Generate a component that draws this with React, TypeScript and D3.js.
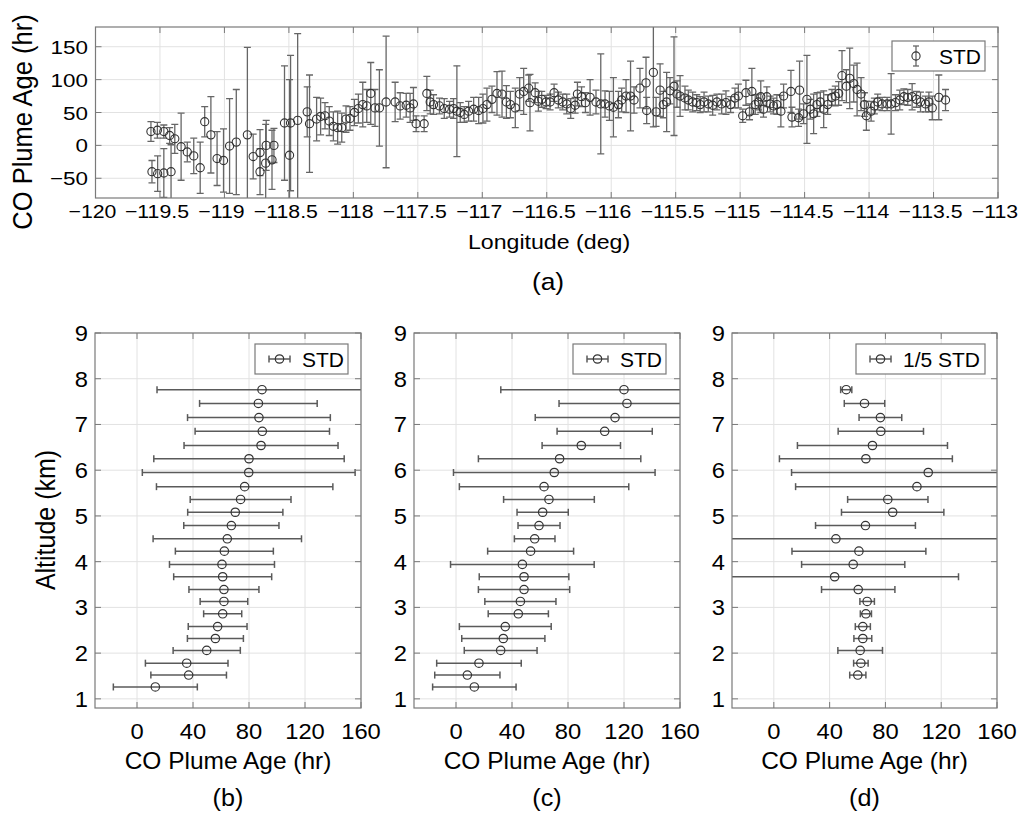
import React from "react";
import * as d3 from "d3";

// ---------- Panel (a) data: longitude, CO plume age, STD ----------
const lonA = [
  -119.57, -119.562, -119.52, -119.518, -119.47, -119.47, -119.425, -119.414, -119.385, -119.336,
  -119.288, -119.238, -119.188, -119.153, -119.105, -119.057, -119.007, -118.96, -118.908, -118.822,
  -118.777, -118.724, -118.724, -118.68, -118.676, -118.631, -118.616, -118.534, -118.495, -118.487,
  -118.432, -118.358, -118.34, -118.285, -118.254, -118.22, -118.187, -118.155, -118.122, -118.09,
  -118.057, -118.026, -117.992, -117.961, -117.927, -117.896, -117.865, -117.832, -117.798, -117.746,
  -117.676, -117.637, -117.59, -117.56, -117.534, -117.513, -117.451, -117.43, -117.404, -117.378,
  -117.332, -117.295, -117.254, -117.223, -117.197, -117.171, -117.14, -117.106, -117.067, -117.028,
  -116.995, -116.964, -116.925, -116.886, -116.847, -116.813, -116.782, -116.744, -116.71, -116.679,
  -116.64, -116.63, -116.59, -116.565, -116.539, -116.505, -116.474, -116.443, -116.41, -116.376,
  -116.345, -116.314, -116.28, -116.262, -116.23, -116.2, -116.164, -116.118, -116.081, -116.048,
  -116.014, -115.983, -115.944, -115.919, -115.885, -115.85, -115.823, -115.777, -115.73, -115.725,
  -115.673, -115.652, -115.621, -115.596, -115.57, -115.544, -115.513, -115.49, -115.466, -115.428,
  -115.402, -115.368, -115.337, -115.31, -115.28, -115.247, -115.213, -115.18, -115.143, -115.11,
  -115.074, -115.04, -115.014, -114.98, -114.955, -114.927, -114.909, -114.883, -114.858, -114.84,
  -114.819, -114.793, -114.767, -114.741, -114.715, -114.684, -114.663, -114.606, -114.598, -114.547,
  -114.539, -114.508, -114.482, -114.456, -114.43, -114.404, -114.378, -114.352, -114.321, -114.288,
  -114.262, -114.236, -114.21, -114.176, -114.15, -114.119, -114.093, -114.062, -114.036, -114.021,
  -113.984, -113.959, -113.933, -113.899, -113.86, -113.829, -113.795, -113.762, -113.73, -113.7,
  -113.666, -113.632, -113.601, -113.562, -113.536, -113.51, -113.459, -113.407,
];
const ageA = [
  21, -40, 23, -43, 21, -42, 15, -40, 10, -2,
  -10, -16, -34, 36, 16, -20, -23, -1, 5, 16,
  -17, -11, -40, -27, 0, -22, 0, 34, -15, 34,
  38, 51, 33, 40, 44, 45, 37, 29, 27, 27,
  40, 41, 50, 56, 62, 60, 79, 57, 57, 66,
  66, 60, 61, 57, 63, 33, 33, 79, 66, 62,
  60, 56, 55, 56, 52, 50, 47, 52, 55, 53,
  56, 62, 70, 79, 78, 66, 62, 57, 78, 82,
  87, 65, 80, 67, 70, 66, 66, 80, 69, 66,
  63, 56, 61, 78, 74, 65, 73, 66, 63, 63,
  60, 58, 62, 69, 75, 75, 69, 87, 95, 53,
  111, 51, 84, 62, 66, 83, 90, 78, 75, 72,
  69, 66, 65, 62, 66, 63, 61, 66, 63, 65,
  62, 72, 75, 45, 80, 51, 82, 62, 66, 74,
  55, 74, 63, 60, 62, 52, 75, 82, 43, 42,
  84, 48, 70, 55, 48, 62, 66, 55, 62, 73,
  75, 79, 106, 90, 102, 94, 85, 78, 62, 45,
  52, 60, 66, 63, 63, 63, 65, 69, 74, 73,
  74, 70, 66, 63, 66, 57, 73, 69,
];
const stdA = [
  15, 17, 12, 27, 10, 37, 12, 41, 22, 51,
  15, 27, 39, 23, 58, 41, 48, 72, 80, 133,
  34, 35, 35, 59, 38, 45, 26, 87, 115, 103,
  132, 38, 74, 33, 28, 20, 22, 22, 25, 22,
  20, 18, 20, 22, 34, 25, 47, 28, 58, 100,
  30, 20, 18, 22, 25, 12, 12, 26, 18, 15,
  12, 15, 12, 15, 69, 15, 12, 15, 18, 20,
  22, 25, 20, 33, 35, 25, 20, 30, 25, 35,
  20, 43, 15, 15, 12, 10, 12, 13, 12, 12,
  15, 15, 12, 18, 15, 15, 27, 18, 76, 20,
  22, 45, 20, 18, 25, 53, 20, 30, 39, 20,
  83, 22, 40, 20, 45, 20, 75, 20, 31, 18,
  15, 15, 12, 12, 15, 12, 15, 12, 15, 18,
  12, 15, 18, 10, 19, 12, 35, 15, 12, 24,
  12, 15, 12, 12, 15, 24, 18, 32, 15, 13,
  44, 15, 67, 15, 30, 18, 15, 28, 15, 12,
  15, 18, 38, 25, 46, 28, 40, 25, 18, 22,
  15, 12, 12, 10, 10, 46, 12, 15, 12, 12,
  20, 12, 15, 12, 15, 18, 34, 16,
];
const lonTicks = [-120, -119.5, -119, -118.5, -118, -117.5, -117, -116.5, -116, -115.5, -115, -114.5, -114, -113.5, -113];
const ageTicksA = [-50, 0, 50, 100, 150];

// ---------- Panels (b)-(d): altitude profiles ----------
const altitudes = [7.76, 7.46, 7.15, 6.85, 6.54, 6.25, 5.95, 5.64, 5.36, 5.08, 4.79, 4.5, 4.23, 3.94, 3.67, 3.39, 3.13, 2.86, 2.58, 2.32, 2.06, 1.78, 1.52, 1.26];
const ageB = [89.3, 86.7, 87.1, 89.5, 88.6, 80, 79.8, 76.9, 74, 70.2, 67.4, 64.5, 62.4, 60.7, 61.2, 62.1, 62.1, 61.2, 57.6, 56, 49.8, 35.5, 36.9, 13.1];
const stdB = [75, 42, 51, 48, 55, 68, 76, 63, 36, 34, 34, 53, 35, 37.5, 35, 25, 17, 13.6, 21, 20, 24, 29.5, 27, 30];
const ageC = [120, 122.1, 113.6, 106.2, 89.5, 74, 70.2, 62.9, 66.4, 61.9, 59.3, 56.2, 53.3, 47.4, 48.6, 48.6, 46, 44.5, 35.2, 33.8, 31.9, 16.4, 8.1, 13.1];
const stdC = [88, 48.5, 57, 34, 28, 58, 72, 60.5, 32.4, 18.3, 15, 14.5, 30.7, 51.3, 32, 32.6, 25.4, 21.5, 32.8, 29.7, 26, 30.2, 23.3, 29.8];
const ageD = [51.9, 65, 76.4, 76.7, 70.7, 66, 110.7, 102.6, 81.7, 85.2, 65.7, 44.5, 61, 56.9, 43.6, 60.5, 66.9, 66, 63.8, 63.8, 61.9, 62.4, 60.2];
const stdD = [4, 14.5, 15.3, 30.6, 53.8, 62, 98, 87, 28.8, 36.7, 35.8, 135, 48, 37, 88.8, 26.3, 5.2, 4, 5.4, 6.4, 16, 5.2, 5.8];
const ageTicks = [0, 40, 80, 120, 160];
const altTicks = [1, 2, 3, 4, 5, 6, 7, 8, 9];

const FONT = "'Liberation Sans', Arial, Helvetica, sans-serif";
const fmt = d3.format("");
const FRAME = "#7a7a7a";
const GRID = "#e2e2e2";
const BAR = "#5a5a5a";
const BAR_A = "#666666";
const MARK = "#333333";

// horizontally stretched text (the reference glyphs are wider than Arial's)
function SText({ x, y, k = 1, size, anchor = "middle", rotate = 0, children }: any) {
  const t = `translate(${x},${y}) scale(${k},1)` + (rotate ? ` rotate(${rotate})` : "");
  return (
    <text transform={t} textAnchor={anchor} fontSize={size} fontFamily={FONT} fill="#000">
      {children}
    </text>
  );
}

function PanelA() {
  const x = d3.scaleLinear().domain([-120, -113]).range([95.5, 998]);
  const y = d3.scaleLinear().domain([-80, 180]).range([198, 27]);
  const [x0, x1] = x.range();
  const [y1, y0] = y.range();
  const tk = 6;
  const cap = 3.5;
  return (
    <g>
      <defs>
        <clipPath id="clipA">
          <rect x={x0} y={y0} width={x1 - x0} height={y1 - y0} />
        </clipPath>
      </defs>
      <rect x={x0} y={y0} width={x1 - x0} height={y1 - y0} fill="#fff" />
      {lonTicks.map((t) => (
        <line key={"gx" + t} x1={x(t)} x2={x(t)} y1={y0} y2={y1} stroke={GRID} />
      ))}
      {ageTicksA.map((t) => (
        <line key={"gy" + t} x1={x0} x2={x1} y1={y(t)} y2={y(t)} stroke={GRID} />
      ))}
      <g clipPath="url(#clipA)">
        {lonA.map((lon, i) => {
          const cx = x(lon);
          const top = y(ageA[i] + stdA[i]);
          const bot = y(ageA[i] - stdA[i]);
          return (
            <g key={"e" + i} stroke={BAR_A} strokeWidth={1.3} fill="none">
              <line x1={cx} x2={cx} y1={top} y2={bot} />
              <line x1={cx - cap} x2={cx + cap} y1={top} y2={top} />
              <line x1={cx - cap} x2={cx + cap} y1={bot} y2={bot} />
            </g>
          );
        })}
        {lonA.map((lon, i) => (
          <circle key={"c" + i} cx={x(lon)} cy={y(ageA[i])} r={4.1} fill="none" stroke={MARK} strokeWidth={1.1} />
        ))}
      </g>
      {lonTicks.map((t) => (
        <g key={"tx" + t} stroke={FRAME}>
          <line x1={x(t)} x2={x(t)} y1={y1} y2={y1 - tk} />
          <line x1={x(t)} x2={x(t)} y1={y0} y2={y0 + tk} />
        </g>
      ))}
      {ageTicksA.map((t) => (
        <g key={"ty" + t} stroke={FRAME}>
          <line x1={x0} x2={x0 + tk} y1={y(t)} y2={y(t)} />
          <line x1={x1} x2={x1 - tk} y1={y(t)} y2={y(t)} />
        </g>
      ))}
      <rect x={x0} y={y0} width={x1 - x0} height={y1 - y0} fill="none" stroke={FRAME} strokeWidth={1.2} />
      {lonTicks.map((t) => (
        <SText key={"lx" + t} x={x(t) - 3} y={218} k={1.12} size={19}>
          {fmt(t)}
        </SText>
      ))}
      {ageTicksA.map((t) => (
        <SText key={"ly" + t} x={88} y={y(t) + 7} k={1.18} size={19} anchor="end">
          {fmt(t)}
        </SText>
      ))}
      <SText x={549} y={249} k={1.13} size={20.5}>
        Longitude (deg)
      </SText>
      <SText x={548} y={290} k={1.1} size={24}>
        (a)
      </SText>
      <SText x={32} y={122} k={1.1} size={25.5} rotate={-90}>
        CO Plume Age (hr)
      </SText>
      {/* legend */}
      <rect x={892} y={41} width={93} height={30} fill="#fff" stroke={FRAME} strokeWidth={1.2} />
      <g stroke={BAR_A} strokeWidth={1.3}>
        <line x1={916} x2={916} y1={46} y2={66} />
        <line x1={913} x2={919} y1={46} y2={46} />
        <line x1={913} x2={919} y1={66} y2={66} />
      </g>
      <circle cx={916} cy={56} r={4.1} fill="none" stroke={MARK} strokeWidth={1.1} />
      <SText x={939} y={64} k={1.05} size={20} anchor="start">
        STD
      </SText>
    </g>
  );
}

type ProfileProps = {
  id: string;
  left: number;
  right: number;
  alt: number[];
  age: number[];
  std: number[];
  legendX: number;
  legendW: number;
  legendText: string;
  tag: string;
};

function Profile({ id, left, right, alt, age, std, legendX, legendW, legendText, tag }: ProfileProps) {
  const x = d3.scaleLinear().domain([-30, 160]).range([left, right]);
  const y = d3.scaleLinear().domain([0.8, 9]).range([708, 333]);
  const x0 = left, x1 = right;
  const y0 = 333, y1 = 708;
  const tk = 6;
  const cap = 3.5;
  const cxm = (x0 + x1) / 2;
  return (
    <g>
      <defs>
        <clipPath id={"clip" + id}>
          <rect x={x0} y={y0} width={x1 - x0} height={y1 - y0} />
        </clipPath>
      </defs>
      <rect x={x0} y={y0} width={x1 - x0} height={y1 - y0} fill="#fff" />
      {ageTicks.map((t) => (
        <line key={"gx" + t} x1={x(t)} x2={x(t)} y1={y0} y2={y1} stroke={GRID} />
      ))}
      {altTicks.map((t) => (
        <line key={"gy" + t} x1={x0} x2={x1} y1={y(t)} y2={y(t)} stroke={GRID} />
      ))}
      <g clipPath={`url(#clip${id})`}>
        {alt.map((a, i) => {
          const cy = y(a);
          const l = x(age[i] - std[i]);
          const r = x(age[i] + std[i]);
          return (
            <g key={"e" + i} stroke={BAR} strokeWidth={1.5}>
              <line x1={l} x2={r} y1={cy} y2={cy} />
              <line x1={l} x2={l} y1={cy - cap} y2={cy + cap} />
              <line x1={r} x2={r} y1={cy - cap} y2={cy + cap} />
            </g>
          );
        })}
        {alt.map((a, i) => (
          <circle key={"c" + i} cx={x(age[i])} cy={y(a)} r={4.2} fill="none" stroke={MARK} strokeWidth={1.2} />
        ))}
      </g>
      {ageTicks.map((t) => (
        <g key={"tx" + t} stroke={FRAME}>
          <line x1={x(t)} x2={x(t)} y1={y1} y2={y1 - tk} />
          <line x1={x(t)} x2={x(t)} y1={y0} y2={y0 + tk} />
        </g>
      ))}
      {altTicks.map((t) => (
        <g key={"ty" + t} stroke={FRAME}>
          <line x1={x0} x2={x0 + tk} y1={y(t)} y2={y(t)} />
          <line x1={x1} x2={x1 - tk} y1={y(t)} y2={y(t)} />
        </g>
      ))}
      <rect x={x0} y={y0} width={x1 - x0} height={y1 - y0} fill="none" stroke={FRAME} strokeWidth={1.2} />
      {ageTicks.map((t) => (
        <SText key={"lx" + t} x={x(t)} y={739} k={1.08} size={22}>
          {fmt(t)}
        </SText>
      ))}
      {altTicks.map((t) => (
        <SText key={"ly" + t} x={x0 - 7} y={y(t) + 8} k={1.08} size={22} anchor="end">
          {fmt(t)}
        </SText>
      ))}
      <SText x={cxm} y={769} k={1.02} size={24}>
        CO Plume Age (hr)
      </SText>
      <SText x={cxm} y={806} k={1.05} size={24}>
        {tag}
      </SText>
      {/* legend */}
      <rect x={legendX} y={344} width={legendW} height={30} fill="#fff" stroke={FRAME} strokeWidth={1.2} />
      <g stroke={BAR} strokeWidth={1.5}>
        <line x1={legendX + 14} x2={legendX + 35} y1={359} y2={359} />
        <line x1={legendX + 14} x2={legendX + 14} y1={355.5} y2={362.5} />
        <line x1={legendX + 35} x2={legendX + 35} y1={355.5} y2={362.5} />
      </g>
      <circle cx={legendX + 24.5} cy={359} r={4.2} fill="none" stroke={MARK} strokeWidth={1.2} />
      <SText x={legendX + 47} y={367} k={1.05} size={20} anchor="start">
        {legendText}
      </SText>
    </g>
  );
}

export default function App() {
  return (
    <svg
      width={1021}
      height={813}
      viewBox="0 0 1021 813"
      style={{ position: "absolute", left: 0, top: 0, background: "#fff" }}
    >
      <rect width={1021} height={813} fill="#fff" />
      <PanelA />
      <Profile id="b" left={95} right={361} alt={altitudes} age={ageB} std={stdB} legendX={255} legendW={93} legendText="STD" tag="(b)" />
      <Profile id="c" left={414} right={680} alt={altitudes} age={ageC} std={stdC} legendX={573} legendW={93} legendText="STD" tag="(c)" />
      <Profile id="d" left={732} right={997} alt={altitudes.slice(0, ageD.length)} age={ageD} std={stdD} legendX={856} legendW={129} legendText="1/5 STD" tag="(d)" />
      <SText x={55} y={520} k={1.08} size={25} rotate={-90}>
        Altitude (km)
      </SText>
    </svg>
  );
}
